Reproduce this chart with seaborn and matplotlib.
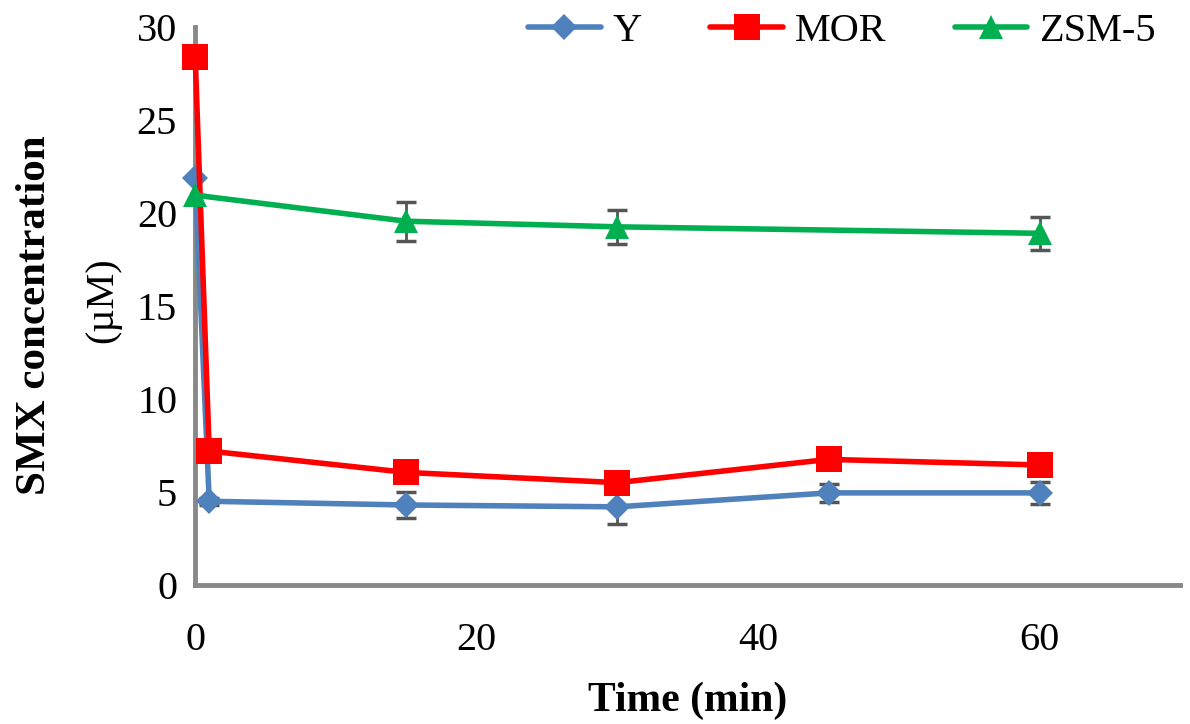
import pandas as pd
import matplotlib
matplotlib.use("Agg")
import matplotlib.pyplot as plt
import seaborn as sns

# ==========================
# data
# ==========================
y_time = [0, 1, 15, 30, 45, 60]
y_conc = [21.9, 4.5, 4.3, 4.2, 4.95, 4.95]
y_err = [0.0, 0.2, 0.7, 0.9, 0.5, 0.6]

mor_time = [0, 1, 15, 30, 45, 60]
mor_conc = [28.4, 7.2, 6.05, 5.5, 6.75, 6.45]
mor_err = [0.0, 0.3, 0.4, 0.4, 0.3, 0.3]

zsm_time = [0, 15, 30, 60]
zsm_conc = [20.95, 19.55, 19.25, 18.9]
zsm_err = [0.0, 1.05, 0.9, 0.9]

series = ["Y", "MOR", "ZSM-5"]
colors = {"Y": "#4F81BD", "MOR": "#FF0000", "ZSM-5": "#00B050"}
markers = {"Y": "D", "MOR": "s", "ZSM-5": "^"}
msizes = {"Y": 13, "MOR": 19, "ZSM-5": 17}

df = pd.concat([
    pd.DataFrame({"time": y_time, "conc": y_conc, "err": y_err, "zeolite": "Y"}),
    pd.DataFrame({"time": mor_time, "conc": mor_conc, "err": mor_err, "zeolite": "MOR"}),
    pd.DataFrame({"time": zsm_time, "conc": zsm_conc, "err": zsm_err, "zeolite": "ZSM-5"}),
], ignore_index=True)

sns.set_style("white")
plt.rcParams["font.family"] = ["Liberation Serif", "DejaVu Serif"]
plt.rcParams["text.color"] = "black"
plt.rcParams["axes.labelcolor"] = "black"

fig = plt.figure(figsize=(11.9, 7.24), dpi=100)
ax = fig.add_axes([0.164, 0.192, 0.828, 0.771])

# error bars behind the lines
for name in series:
    sub = df[df["zeolite"] == name]
    ax.errorbar(sub["time"], sub["conc"], yerr=sub["err"], fmt="none",
                ecolor="#555555", elinewidth=2, capsize=7, capthick=2.5, zorder=1)

for name in series:
    sub = df[df["zeolite"] == name]
    sns.lineplot(data=sub, x="time", y="conc", color=colors[name],
                 marker=markers[name], markersize=msizes[name],
                 markeredgewidth=0, linewidth=4, label=name, ax=ax, zorder=3,
                 clip_on=False)

ax.set_xlim(0, 70)
ax.set_ylim(0, 30)
ax.set_xticks([0, 20, 40, 60])
ax.set_yticks(range(0, 31, 5))
ax.tick_params(axis="both", direction="out", length=7, width=2, color="#BBBBBB",
               labelsize=29, labelcolor="black")
ax.tick_params(axis="x", pad=20)
ax.tick_params(axis="y", pad=6)

for side in ["top", "right"]:
    ax.spines[side].set_visible(False)
for side in ["left", "bottom"]:
    ax.spines[side].set_color("#888888")
    ax.spines[side].set_linewidth(3.5)

ax.set_xlabel("Time (min)", fontsize=30, fontweight="bold", labelpad=16)
ax.set_ylabel("")
fig.text(0.029, 0.565, "SMX concentration", rotation=90, fontsize=31,
         fontweight="bold", ha="center", va="center")
fig.text(0.086, 0.585, "(µM)", rotation=90, fontsize=29,
         ha="center", va="center")

handles, labels = ax.get_legend_handles_labels()
ax.legend(handles, labels, loc="upper right", bbox_to_anchor=(1.012, 1.09),
          ncol=3, frameon=False, fontsize=29, handlelength=1.8,
          handletextpad=0.3, columnspacing=1.7)

plt.savefig("out.png", dpi=100)
